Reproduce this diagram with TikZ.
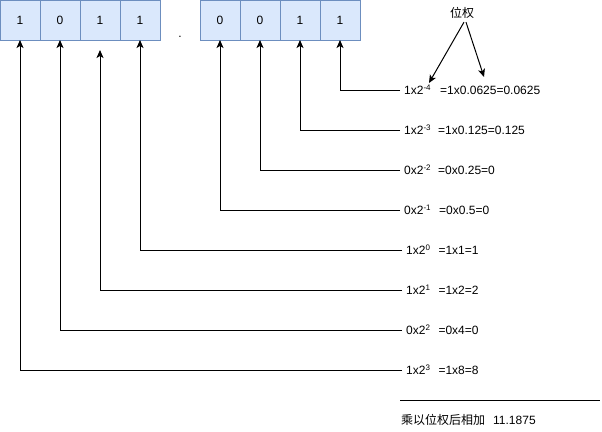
\documentclass[tikz,border=0pt]{standalone}
\usepackage{fontspec}
\setmainfont{Liberation Sans}
\newfontfamily\cjk{Noto Sans CJK SC}
\usetikzlibrary{positioning,arrows.meta}
\definecolor{bitfill}{HTML}{DAE8FC}
\definecolor{bitline}{HTML}{6C8EBF}

\begin{document}
\begin{tikzpicture}[x=1pt,y=-1pt]
        \tikzstyle{bit}=[draw=bitline, fill=bitfill, line width=1pt, outer sep=0pt, inner sep=0pt, minimum width=40pt, minimum height=40pt, font=\fontsize{12}{14}\selectfont]
        \tikzstyle{term}=[anchor=west, inner sep=4pt, font=\fontsize{12}{14}\selectfont]
        \tikzstyle{wire}=[line width=1pt, -{Stealth[length=8pt,width=7pt,inset=2pt]}]
        \useasboundingbox (0,0) rectangle (602,431);
        % integer part
        \node[bit] (b1) at (20,20) {1};
        \node[bit, right=0pt of b1] (b2) {0};
        \node[bit, right=0pt of b2] (b3) {1};
        \node[bit, right=0pt of b3] (b4) {1};
        \node[anchor=base, font=\fontsize{12}{14}\selectfont] (dot) at (180,37) {.};
        % fraction part
        \node[bit] (f1) at (220,20) {0};
        \node[bit, right=0pt of f1] (f2) {0};
        \node[bit, right=0pt of f2] (f3) {1};
        \node[bit, right=0pt of f3] (f4) {1};
        % terms
        \node[term] (t4) at (400,90) {1x2\textsuperscript{-4}\hspace{9pt}=1x0.0625=0.0625};
        \node[term] (t3) at (400,130) {1x2\textsuperscript{-3}\hspace{7pt}=1x0.125=0.125};
        \node[term] (t2) at (400,170) {0x2\textsuperscript{-2}\hspace{7pt}=0x0.25=0};
        \node[term] (t1) at (400,210) {0x2\textsuperscript{-1}\hspace{8pt}=0x0.5=0};
        \node[term] (s0) at (402,250) {1x2\textsuperscript{0}\hspace{8pt}=1x1=1};
        \node[term] (s1) at (402,290) {1x2\textsuperscript{1}\hspace{8pt}=1x2=2};
        \node[term] (s2) at (402,330) {0x2\textsuperscript{2}\hspace{8pt}=0x4=0};
        \node[term] (s3) at (402,370) {1x2\textsuperscript{3}\hspace{8pt}=1x8=8};
        \draw[wire] (t4.west) -| (f4.south);
        \draw[wire] (t3.west) -| (f3.south);
        \draw[wire] (t2.west) -| (f2.south);
        \draw[wire] (t1.west) -| (f1.south);
        \draw[wire] (s0.west) -| (b4.south);
        \draw[wire] (s1.west) -| ([yshift=-10pt]b3.south);
        \draw[wire] (s2.west) -| (b2.south);
        \draw[wire] (s3.west) -| (b1.south);
        % weight
        \node[font=\cjk\fontsize{12}{14}\selectfont] (pw) at (462,13) {位权};
        \coordinate (pl) at (429,83);
        \coordinate (pr) at (484,77);
        \draw[wire] ([xshift=2pt]pw.south) -- (pl);
        \draw[wire] ([xshift=4pt]pw.south) -- (pr);
        % sum
        \coordinate (ra) at (400,400);
        \coordinate (rb) at (600,400);
        \draw[line width=1pt] (ra) -- (rb);
        \node[anchor=west, inner sep=0pt, font=\fontsize{12}{14}\selectfont] (sum) at (401,420) {{\cjk 乘以位权后相加}\hspace{8pt}11.1875};
\end{tikzpicture}
\end{document}
